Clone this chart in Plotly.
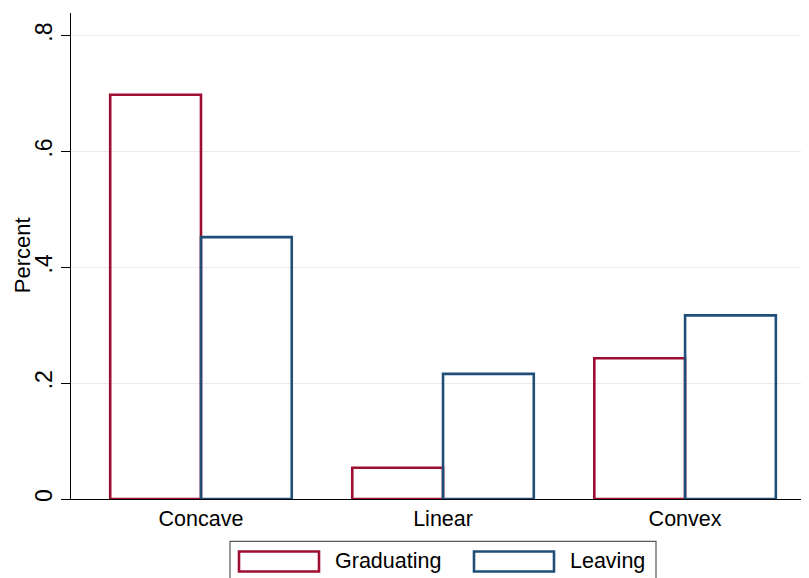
import plotly.graph_objects as go

categories = ["Concave", "Linear", "Convex"]
graduating = [0.698, 0.054, 0.243]
leaving = [0.452, 0.216, 0.317]
series_names = ["Graduating", "Leaving"]
y_tickvals = [0, 0.2, 0.4, 0.6, 0.8]
y_ticktext = ["0", ".2", ".4", ".6", ".8"]

RED = "#9E0E30"
BLUE = "#1F4E79"
FONT = "Liberation Sans, Arial, Helvetica, sans-serif"

# page has an 8px default body margin -> work in page pixels, subtract offset
OFF = 8
W, H = 809 - OFF, 578 - OFF
PLOT_L, PLOT_R, PLOT_T, PLOT_B = 71, 809, 13, 499.5  # page pixels
L = PLOT_L - OFF
T = PLOT_T - OFF
R = (809 - OFF) - (PLOT_R - OFF)
B = H - (PLOT_B - OFF)
pw = PLOT_R - PLOT_L
ph = PLOT_B - PLOT_T


def px(x):
    return (x - PLOT_L) / pw


def py(y):
    return (PLOT_B - y) / ph


fig = go.Figure()
for name, vals, col in [(series_names[0], graduating, RED), (series_names[1], leaving, BLUE)]:
    fig.add_trace(go.Bar(
        x=categories, y=vals, name=name,
        marker=dict(color="rgba(255,255,255,0)", line=dict(color=col, width=2.6)),
        showlegend=False,
    ))

# legend drawn manually (Stata-style wide swatches)
shapes = [
    dict(type="rect", xref="paper", yref="paper", x0=px(230), x1=px(656), y0=py(595), y1=py(542),
         line=dict(color="#555555", width=1.2), fillcolor="white", layer="above"),
    dict(type="rect", xref="paper", yref="paper", x0=px(239), x1=px(319), y0=py(572), y1=py(552),
         line=dict(color=RED, width=2.6), fillcolor="white", layer="above"),
    dict(type="rect", xref="paper", yref="paper", x0=px(474), x1=px(554), y0=py(572), y1=py(552),
         line=dict(color=BLUE, width=2.6), fillcolor="white", layer="above"),
]
annotations = [
    dict(xref="paper", yref="paper", x=px(333), y=py(562), text=series_names[0], showarrow=False,
         xanchor="left", yanchor="middle", font=dict(size=21.5, color="black", family=FONT)),
    dict(xref="paper", yref="paper", x=px(568), y=py(562), text=series_names[1], showarrow=False,
         xanchor="left", yanchor="middle", font=dict(size=21.5, color="black", family=FONT)),
    dict(xref="paper", yref="paper", x=px(22), y=py(255.5), text="Percent", showarrow=False,
         textangle=-90, xanchor="center", yanchor="middle",
         font=dict(size=22, color="black", family=FONT)),
]

fig.update_layout(
    width=W, height=H,
    margin=dict(l=L, r=R, t=T, b=B, pad=0, autoexpand=False),
    paper_bgcolor="white", plot_bgcolor="white",
    barmode="group", bargap=0.25, bargroupgap=0,
    font=dict(family=FONT, size=21, color="black"),
    shapes=shapes, annotations=annotations,
    xaxis=dict(
        range=[-0.537, 2.512], showline=True, linecolor="black", linewidth=1.2,
        ticks="", showgrid=False, tickfont=dict(size=21.5), zeroline=False,
        automargin=False,
    ),
    yaxis=dict(
        range=[0, 0.839], tickvals=y_tickvals, ticktext=y_ticktext, tickangle=-90,
        showline=True, linecolor="black", linewidth=1.2,
        ticks="outside", ticklen=9, tickcolor="black", tickwidth=1.2,
        showgrid=True, gridcolor="#EAEAEA", gridwidth=1.2, zeroline=False,
        tickfont=dict(size=23), automargin=False,
    ),
)

fig.write_html("out.html")
